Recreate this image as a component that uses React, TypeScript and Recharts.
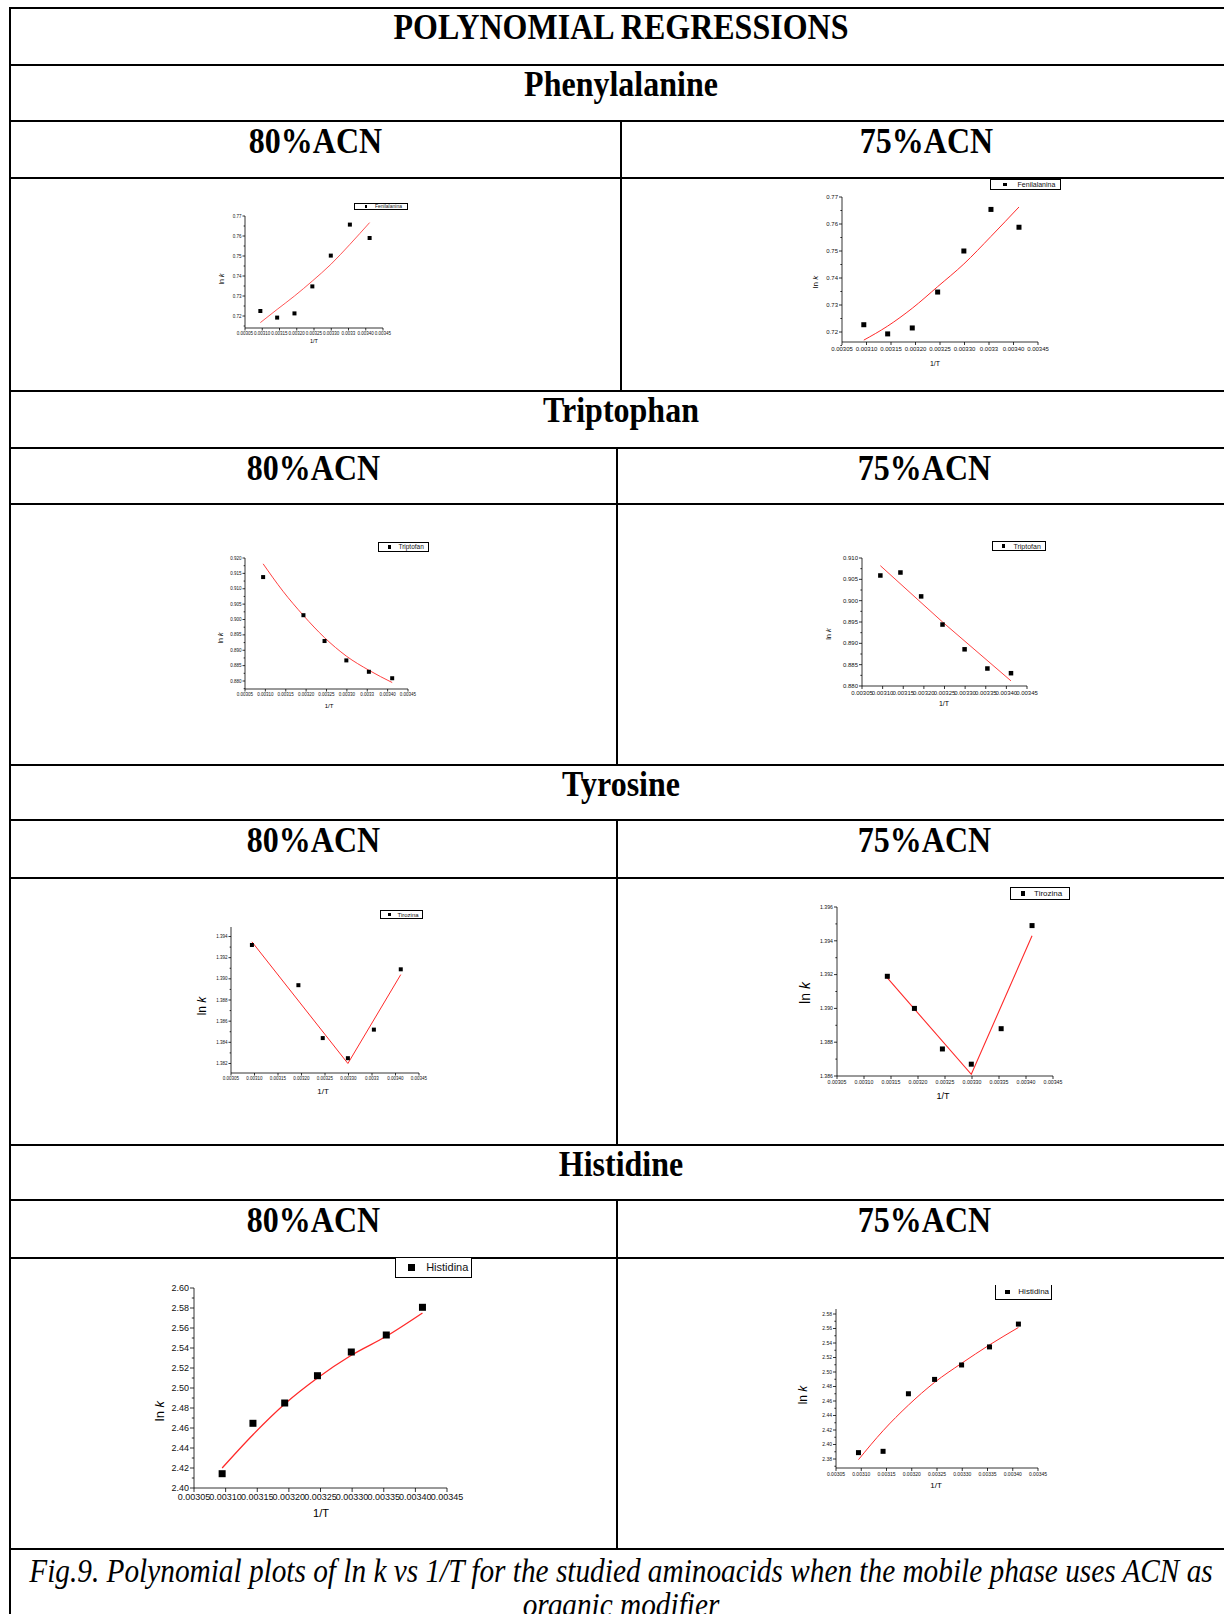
import React from "react";
import { ComposedChart, Line, Scatter, XAxis, YAxis, Legend } from "recharts";

// 1/T (K^-1), the seven temperatures 50 ... 20 °C
const X_ALL = [0.0030945, 0.0031432, 0.0031934, 0.0032452, 0.0032987, 0.003354, 0.0034112];
const X_SKIP_315 = [0.0030945, 0.0031934, 0.0032452, 0.0032987, 0.003354, 0.0034112];
const X_FROM_315 = [0.0031432, 0.0031934, 0.0032452, 0.0032987, 0.003354, 0.0034112];

const X_TICKS = [0.00305, 0.0031, 0.00315, 0.0032, 0.00325, 0.0033, 0.00335, 0.0034, 0.00345];
const X_LABELS = ["0.00305", "0.00310", "0.00315", "0.00320", "0.00325", "0.00330", "0.00335", "0.00340", "0.00345"];
const X_LABELS_ORIGIN = ["0.00305", "0.00310", "0.00315", "0.00320", "0.00325", "0.00330", "0.0033", "0.00340", "0.00345"];

// Phenylalanine
const PHE80_Y = [0.7225, 0.7192, 0.7213, 0.7348, 0.7502, 0.7657, 0.759];
const PHE80_FIT = [0.7167, 0.7233, 0.73, 0.7375, 0.7458, 0.7558, 0.7667];
const PHE75_Y = [0.7227, 0.7193, 0.7215, 0.7348, 0.75, 0.7654, 0.7588];
const PHE75_FIT = [0.717, 0.7222, 0.7288, 0.7368, 0.7452, 0.7554, 0.7663];
const PHE_TICKS = [0.72, 0.73, 0.74, 0.75, 0.76, 0.77];
const PHE_LABELS = ["0.72", "0.73", "0.74", "0.75", "0.76", "0.77"];
const PHE_MINOR = [0.715, 0.725, 0.735, 0.745, 0.755, 0.765];

// Triptophan
const TRP80_Y = [0.9138, 0.9014, 0.893, 0.8867, 0.883, 0.8809];
const TRP80_FIT = [0.9181, 0.9092, 0.9013, 0.8941, 0.8881, 0.8835, 0.8795];
const TRP80_TICKS = [0.88, 0.885, 0.89, 0.895, 0.9, 0.905, 0.91, 0.915, 0.92];
const TRP80_LABELS = ["0.880", "0.885", "0.890", "0.895", "0.900", "0.905", "0.910", "0.915", "0.920"];
const TRP80_MINOR = [0.8775, 0.8825, 0.8875, 0.8925, 0.8975, 0.9025, 0.9075, 0.9125, 0.9175];
const TRP75_Y = [0.9059, 0.9066, 0.901, 0.8944, 0.8886, 0.8841, 0.883];
const TRP75_FIT_X = [0.0030945, 0.0032452, 0.0034112];
const TRP75_FIT = [0.9082, 0.895, 0.8812];
const TRP75_TICKS = [0.88, 0.885, 0.89, 0.895, 0.9, 0.905, 0.91];
const TRP75_LABELS = ["0.880", "0.885", "0.890", "0.895", "0.900", "0.905", "0.910"];
const TRP75_MINOR = [0.8825, 0.8875, 0.8925, 0.8975, 0.9025, 0.9075];

// Tyrosine
const TYR80_Y = [1.3932, 1.3894, 1.3844, 1.3825, 1.3852, 1.3909];
const TYR80_FIT_X = [0.0030945, 0.0032987, 0.0034112];
const TYR80_FIT = [1.3935, 1.382, 1.3904];
const TYR80_TICKS = [1.382, 1.384, 1.386, 1.388, 1.39, 1.392, 1.394];
const TYR80_LABELS = ["1.382", "1.384", "1.386", "1.388", "1.390", "1.392", "1.394"];
const TYR80_MINOR = [1.383, 1.385, 1.387, 1.389, 1.391, 1.393];
const TYR75_Y = [1.3919, 1.39, 1.3876, 1.3867, 1.3888, 1.3949];
const TYR75_FIT_X = [0.0031432, 0.0032987, 0.0034112];
const TYR75_FIT = [1.3918, 1.3861, 1.3943];
const TYR75_TICKS = [1.386, 1.388, 1.39, 1.392, 1.394, 1.396];
const TYR75_LABELS = ["1.386", "1.388", "1.390", "1.392", "1.394", "1.396"];
const TYR75_MINOR = [1.387, 1.389, 1.391, 1.393, 1.395];

// Histidine
const HIS80_Y = [2.4143, 2.4647, 2.485, 2.5123, 2.536, 2.553, 2.5807];
const HIS80_FIT = [2.42, 2.4533, 2.484, 2.51, 2.5327, 2.5517, 2.575];
const HIS80_TICKS = [2.4, 2.42, 2.44, 2.46, 2.48, 2.5, 2.52, 2.54, 2.56, 2.58, 2.6];
const HIS80_LABELS = ["2.40", "2.42", "2.44", "2.46", "2.48", "2.50", "2.52", "2.54", "2.56", "2.58", "2.60"];
const HIS80_MINOR = [2.41, 2.43, 2.45, 2.47, 2.49, 2.51, 2.53, 2.55, 2.57, 2.59];
const HIS75_Y = [2.3888, 2.3906, 2.47, 2.4898, 2.5097, 2.5346, 2.5661];
const HIS75_FIT = [2.3791, 2.419, 2.4543, 2.4857, 2.512, 2.5374, 2.5614];
const HIS75_TICKS = [2.38, 2.4, 2.42, 2.44, 2.46, 2.48, 2.5, 2.52, 2.54, 2.56, 2.58];
const HIS75_LABELS = ["2.38", "2.40", "2.42", "2.44", "2.46", "2.48", "2.50", "2.52", "2.54", "2.56", "2.58"];
const HIS75_MINOR = [2.37, 2.39, 2.41, 2.43, 2.45, 2.47, 2.49, 2.51, 2.53, 2.55, 2.57];

const zip = (xs: number[], ys: number[]) => xs.map((x, i) => ({ x, y: ys[i] }));

const SANS = "'Liberation Sans', Arial, sans-serif";
const SERIF = "'Liberation Serif', 'Times New Roman', serif";

const PAD_L = 50;
const PAD_T = 34;
const PAD_R = 46;
const PAD_B = 36;

type Spec = {
  name: string;
  points: { x: number; y: number }[];
  fit: { x: number; y: number }[];
  curve: "monotone" | "linear";
  yDomain: [number, number];
  yTicks: number[];
  yLabels: string[];
  yMinor: number[];
  xLabels: string[];
  plot: [number, number, number, number];
  tickFont: number;
  tickLen: number;
  yLab: [number, number, number];
  xLab: [number, number, number];
  legend: [number, number, number, number, number];
  openTop?: boolean;
  marker: number;
  lineW: number;
};

const SPECS: Spec[] = [
  {
    name: "Fenilalanina", points: zip(X_ALL, PHE80_Y), fit: zip(X_ALL, PHE80_FIT), curve: "monotone",
    yDomain: [0.714, 0.77], yTicks: PHE_TICKS, yLabels: PHE_LABELS, yMinor: PHE_MINOR, xLabels: X_LABELS_ORIGIN,
    plot: [245, 216, 383, 328], tickFont: 4.5, tickLen: 2.5, yLab: [221, 279, 7], xLab: [314, 341, 5.5],
    legend: [354, 203, 408, 210, 5], marker: 4, lineW: 0.8,
  },
  {
    name: "Fenilalanina", points: zip(X_ALL, PHE75_Y), fit: zip(X_ALL, PHE75_FIT), curve: "monotone",
    yDomain: [0.7163, 0.77], yTicks: PHE_TICKS, yLabels: PHE_LABELS, yMinor: PHE_MINOR, xLabels: X_LABELS_ORIGIN,
    plot: [842, 197, 1038, 342], tickFont: 6, tickLen: 3, yLab: [815, 282, 8], xLab: [935, 363, 7],
    legend: [990, 179, 1061, 190, 7], marker: 5, lineW: 1,
  },
  {
    name: "Triptofan", points: zip(X_SKIP_315, TRP80_Y), fit: zip(X_ALL, TRP80_FIT), curve: "monotone",
    yDomain: [0.8774, 0.92], yTicks: TRP80_TICKS, yLabels: TRP80_LABELS, yMinor: TRP80_MINOR, xLabels: X_LABELS_ORIGIN,
    plot: [245, 558, 408, 689], tickFont: 4.5, tickLen: 2.5, yLab: [220, 638, 7], xLab: [329, 706, 6],
    legend: [378, 542, 429, 552, 6.5], marker: 4, lineW: 0.9,
  },
  {
    name: "Triptofan", points: zip(X_ALL, TRP75_Y), fit: zip(TRP75_FIT_X, TRP75_FIT), curve: "linear",
    yDomain: [0.88, 0.91], yTicks: TRP75_TICKS, yLabels: TRP75_LABELS, yMinor: TRP75_MINOR, xLabels: X_LABELS,
    plot: [862, 558, 1027, 686], tickFont: 6, tickLen: 3, yLab: [828, 634, 7.5], xLab: [944, 703, 7],
    legend: [992, 541, 1046, 551, 7], marker: 4.5, lineW: 0.9,
  },
  {
    name: "Tirozina", points: zip(X_SKIP_315, TYR80_Y), fit: zip(TYR80_FIT_X, TYR80_FIT), curve: "linear",
    yDomain: [1.3811, 1.3949], yTicks: TYR80_TICKS, yLabels: TYR80_LABELS, yMinor: TYR80_MINOR, xLabels: X_LABELS_ORIGIN,
    plot: [231, 927, 419, 1073], tickFont: 4.5, tickLen: 2.5, yLab: [202, 1006, 12], xLab: [323, 1091, 8],
    legend: [380, 910, 423, 919, 6], marker: 4, lineW: 1,
  },
  {
    name: "Tirozina", points: zip(X_FROM_315, TYR75_Y), fit: zip(TYR75_FIT_X, TYR75_FIT), curve: "linear",
    yDomain: [1.386, 1.396], yTicks: TYR75_TICKS, yLabels: TYR75_LABELS, yMinor: TYR75_MINOR, xLabels: X_LABELS,
    plot: [837, 907, 1053, 1076], tickFont: 5.2, tickLen: 3, yLab: [805, 993, 14], xLab: [943, 1096, 9],
    legend: [1010, 887, 1070, 900, 8], marker: 5, lineW: 1.1,
  },
  {
    name: "Histidina", points: zip(X_ALL, HIS80_Y), fit: zip(X_ALL, HIS80_FIT), curve: "monotone",
    yDomain: [2.4, 2.6], yTicks: HIS80_TICKS, yLabels: HIS80_LABELS, yMinor: HIS80_MINOR, xLabels: X_LABELS,
    plot: [194, 1288, 447, 1488], tickFont: 9, tickLen: 4, yLab: [159, 1411, 13], xLab: [321, 1513, 11],
    legend: [395, 1258, 472, 1278, 11], openTop: true, marker: 7, lineW: 1.3,
  },
  {
    name: "Histidina", points: zip(X_ALL, HIS75_Y), fit: zip(X_ALL, HIS75_FIT), curve: "monotone",
    yDomain: [2.3676, 2.5869], yTicks: HIS75_TICKS, yLabels: HIS75_LABELS, yMinor: HIS75_MINOR, xLabels: X_LABELS,
    plot: [836, 1309, 1038, 1468], tickFont: 5, tickLen: 3, yLab: [803, 1395, 12], xLab: [936, 1485, 8],
    legend: [995, 1285, 1052, 1300, 8], openTop: true, marker: 5, lineW: 1,
  },
];

const near = (a: number, b: number) => Math.abs(a - b) < 1e-9;

function Panel({ s }: { s: Spec }) {
  const [l, t, r, b] = s.plot;
  const ox = l - PAD_L;
  const oy = t - PAD_T;
  const W = r - l + PAD_L + PAD_R;
  const H = b - t + PAD_T + PAD_B;
  const yAll = [...s.yTicks, ...s.yMinor].sort((p, q) => p - q);

  const yTick = (p: any) => {
    const v = p.payload.value;
    const i = s.yTicks.findIndex((m) => near(m, v));
    const len = i >= 0 ? s.tickLen : s.tickLen * 0.55;
    return (
      <g>
        <line x1={p.x - len} x2={p.x} y1={p.y} y2={p.y} stroke="#000" strokeWidth={0.8} />
        {i >= 0 && (
          <text x={p.x - s.tickLen - 1} y={p.y} dy="0.35em" textAnchor="end" fontSize={s.tickFont} fontFamily={SANS} fill="#111">
            {s.yLabels[i]}
          </text>
        )}
      </g>
    );
  };

  const xTick = (p: any) => {
    const i = X_TICKS.findIndex((m) => near(m, p.payload.value));
    return (
      <g>
        <line x1={p.x} x2={p.x} y1={p.y} y2={p.y + s.tickLen} stroke="#000" strokeWidth={0.8} />
        <text x={p.x} y={p.y + s.tickLen + 0.5} dy="0.85em" textAnchor="middle" fontSize={s.tickFont} fontFamily={SANS} fill="#111">
          {s.xLabels[i]}
        </text>
      </g>
    );
  };

  const square = (p: any) => (
    <rect x={p.cx - s.marker / 2} y={p.cy - s.marker / 2} width={s.marker} height={s.marker} fill="#000" />
  );

  const yLabel = () => (
    <text
      x={s.yLab[0] - ox}
      y={s.yLab[1] - oy}
      transform={`rotate(-90 ${s.yLab[0] - ox} ${s.yLab[1] - oy})`}
      textAnchor="middle"
      dominantBaseline="central"
      fontSize={s.yLab[2]}
      fontFamily={SANS}
      fill="#000"
    >
      ln <tspan fontStyle="italic">k</tspan>
    </text>
  );

  const xLabel = () => (
    <text
      x={s.xLab[0] - ox}
      y={s.xLab[1] - oy}
      textAnchor="middle"
      dominantBaseline="central"
      fontSize={s.xLab[2]}
      fontFamily={SANS}
      fill="#000"
    >
      1/T
    </text>
  );

  const [lx0, ly0, lx1, ly1, lf] = s.legend;
  const lw = lx1 - lx0;
  const lh = ly1 - ly0;
  const mk = Math.max(2, lh * 0.32);
  const legendBox = () => (
    <div
      style={{
        boxSizing: "border-box",
        width: lw,
        height: lh,
        borderLeft: "1px solid #000",
        borderRight: "1px solid #000",
        borderBottom: "1px solid #000",
        borderTop: s.openTop ? "none" : "1px solid #000",
        background: "#fff",
        display: "flex",
        alignItems: "center",
        overflow: "hidden",
        whiteSpace: "nowrap",
        fontFamily: SANS,
        fontSize: lf,
        lineHeight: 1,
        color: "#111",
      }}
    >
      <span style={{ display: "inline-block", flex: "none", width: mk, height: mk, background: "#000", marginLeft: lw * 0.2 - mk / 2, marginRight: lw * 0.15 }} />
      <span>{s.name}</span>
    </div>
  );

  return (
    <div style={{ position: "absolute", left: ox, top: oy }}>
      <ComposedChart width={W} height={H} margin={{ top: PAD_T, right: PAD_R, left: 0, bottom: 0 }}>
        <XAxis
          type="number"
          dataKey="x"
          domain={[0.00305, 0.00345]}
          allowDataOverflow
          ticks={X_TICKS}
          interval={0}
          height={PAD_B}
          tickSize={0}
          tickMargin={0}
          tickLine={false}
          tick={xTick}
          axisLine={{ stroke: "#000", strokeWidth: 0.8 }}
          label={xLabel}
        />
        <YAxis
          type="number"
          dataKey="y"
          domain={s.yDomain}
          allowDataOverflow
          ticks={yAll}
          interval={0}
          width={PAD_L}
          tickSize={0}
          tickMargin={0}
          tickLine={false}
          tick={yTick}
          axisLine={{ stroke: "#000", strokeWidth: 0.8 }}
          label={yLabel}
        />
        <Line
          data={s.fit}
          dataKey="y"
          type={s.curve}
          stroke="#ff2a2a"
          strokeWidth={s.lineW}
          dot={false}
          activeDot={false}
          isAnimationActive={false}
        />
        <Scatter data={s.points} dataKey="y" fill="#000" shape={square} isAnimationActive={false} />
        <Legend
          layout="vertical"
          align="center"
          verticalAlign="middle"
          content={legendBox}
          wrapperStyle={{ left: lx0 - ox, top: ly0 - oy, width: lw, height: lh }}
        />
      </ComposedChart>
    </div>
  );
}

const H_LINES = [8, 65, 121, 178, 391, 448, 504, 765, 820, 878, 1145, 1200, 1258, 1549];
const V_LINES: [number, number, number][] = [
  [621, 121, 391],
  [617, 448, 765],
  [617, 820, 1145],
  [617, 1200, 1549],
];

const HEADINGS: [string, number, number][] = [
  ["POLYNOMIAL REGRESSIONS", 621, 39],
  ["Phenylalanine", 621, 96],
  ["80%ACN", 315.5, 153],
  ["75%ACN", 926.5, 153],
  ["Triptophan", 621, 422],
  ["80%ACN", 313.5, 480],
  ["75%ACN", 924.5, 480],
  ["Tyrosine", 621, 796],
  ["80%ACN", 313.5, 852],
  ["75%ACN", 924.5, 852],
  ["Histidine", 621, 1176],
  ["80%ACN", 313.5, 1232],
  ["75%ACN", 924.5, 1232],
];

export default function App() {
  return (
    <div style={{ position: "absolute", left: 0, top: 0, width: 1224, height: 1614, overflow: "hidden", background: "#fff" }}>
      <svg width={1224} height={1614} style={{ position: "absolute", left: 0, top: 0 }}>
        {H_LINES.map((y) => (
          <line key={`h${y}`} x1={9} x2={1240} y1={y} y2={y} stroke="#000" strokeWidth={2} />
        ))}
        <line x1={10} x2={10} y1={7} y2={1620} stroke="#000" strokeWidth={2} />
        {V_LINES.map(([x, y0, y1]) => (
          <line key={`v${y0}`} x1={x} x2={x} y1={y0} y2={y1} stroke="#000" strokeWidth={2} />
        ))}
        {HEADINGS.map(([txt, x, y], i) => (
          <text
            key={`t${i}`}
            transform={`translate(${x} ${y}) scale(1 1.12)`}
            textAnchor="middle"
            fontFamily={SERIF}
            fontWeight="bold"
            fontSize={32}
            fill="#000"
          >
            {txt}
          </text>
        ))}
        <text transform="translate(621 1582) scale(1 1.16)" textAnchor="middle" fontFamily={SERIF} fontStyle="italic" fontSize={29.3} fill="#000">
          Fig.9. Polynomial plots of ln k vs 1/T for the studied aminoacids when the mobile phase uses ACN as
        </text>
        <text transform="translate(621 1616) scale(1 1.14)" textAnchor="middle" fontFamily={SERIF} fontStyle="italic" fontSize={29.3} fill="#000">
          organic modifier
        </text>
      </svg>
      {SPECS.map((s, i) => (
        <Panel key={i} s={s} />
      ))}
    </div>
  );
}
